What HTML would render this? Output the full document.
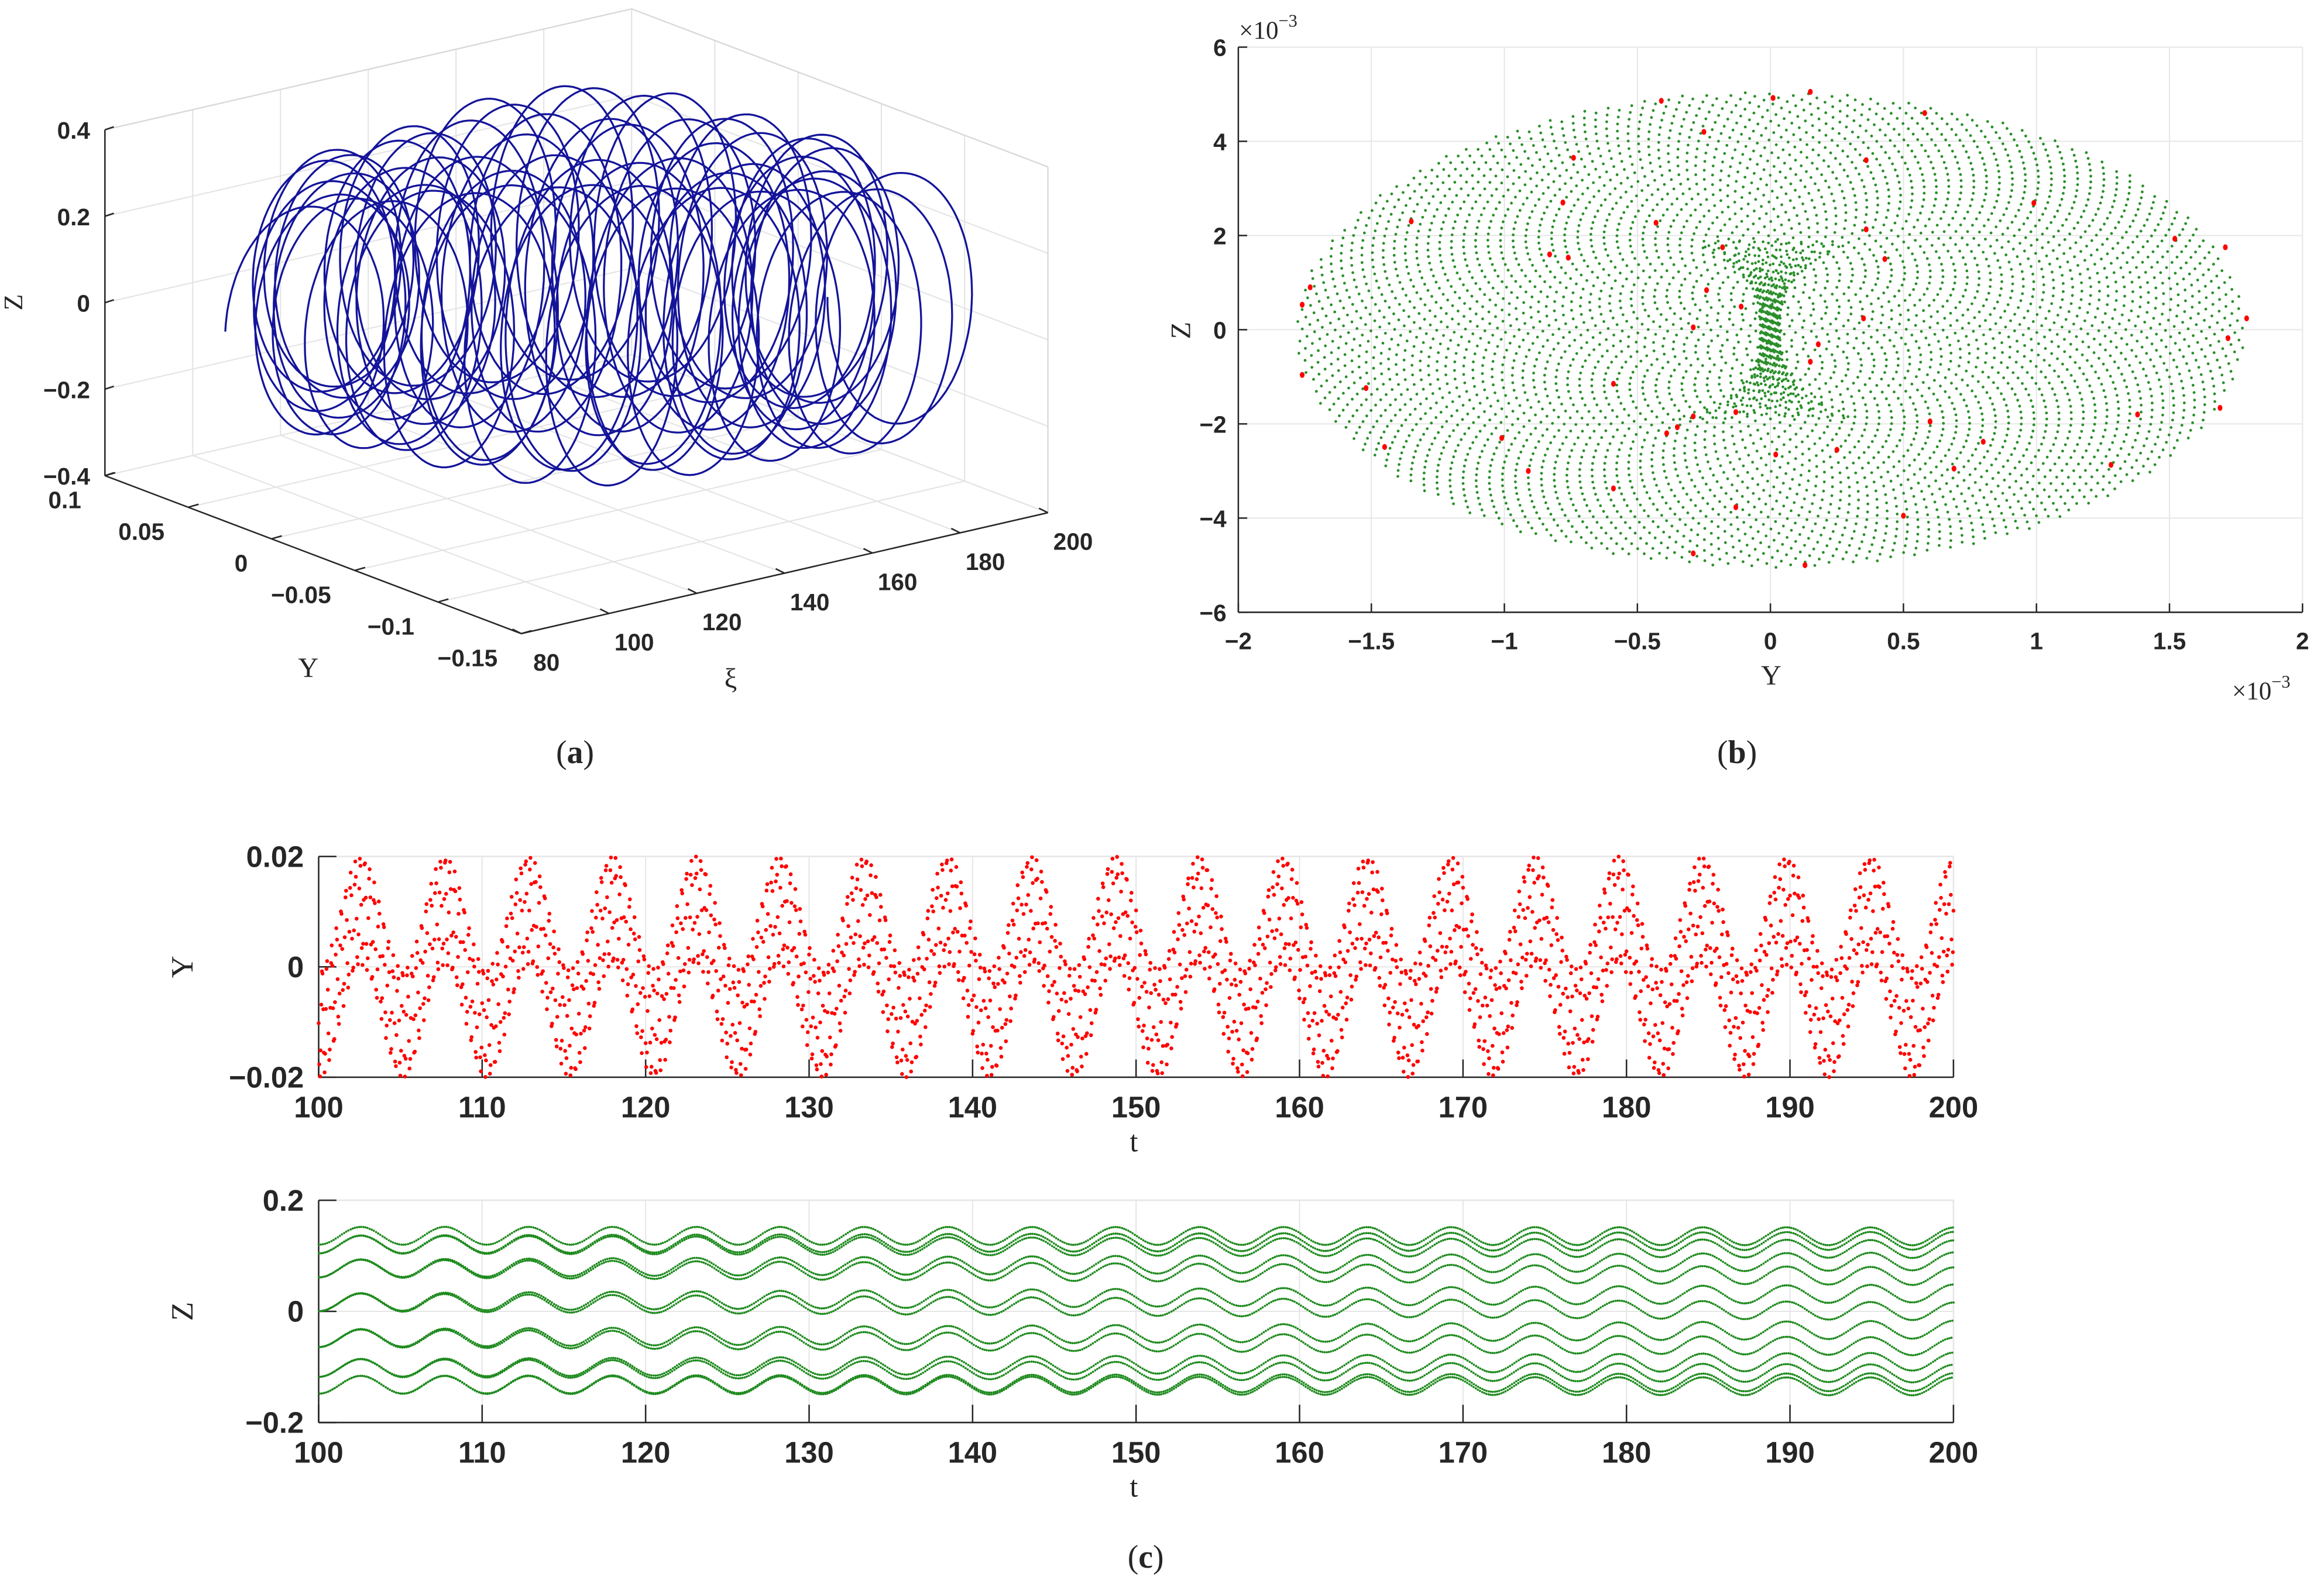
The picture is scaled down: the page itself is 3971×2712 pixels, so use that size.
<!DOCTYPE html>
<html><head><meta charset="utf-8"><style>
html,body{margin:0;padding:0;background:#fff;}
svg{display:block;}
.tk{font-family:"Liberation Sans",sans-serif;font-weight:bold;fill:#262626;}
.lb{font-family:"Liberation Serif",serif;fill:#262626;}
</style></head><body>
<svg id="fig" xmlns="http://www.w3.org/2000/svg" width="3971" height="2712" viewBox="0 0 1568 1071" preserveAspectRatio="none">
<rect width="1568" height="1071" fill="#fff"/>
<g id="pa"></g>
<g id="pb"></g>
<g id="pc1"></g>
<g id="pc2"></g>
<text x="388" y="515" text-anchor="middle" class="lb" font-size="22">(<tspan font-weight="bold">a</tspan>)</text>
<text x="1172" y="515" text-anchor="middle" class="lb" font-size="22">(<tspan font-weight="bold">b</tspan>)</text>
<text x="773" y="1058" text-anchor="middle" class="lb" font-size="22">(<tspan font-weight="bold">c</tspan>)</text>
</svg>
<script>
// ---------- data arrays ----------
const aZTicks=[0.4,0.2,0,-0.2,-0.4];
const aZTickLabels=["0.4","0.2","0","\u22120.2","\u22120.4"];
const aYTicks=[0.1,0.05,0,-0.05,-0.1,-0.15];
const aYTickLabels=["0.1","0.05","0","\u22120.05","\u22120.1","\u22120.15"];
const aXiTicks=[80,100,120,140,160,180,200];
const helixLoops=[58];
const helixRy=[78,100,88];
const helixRx=[48,52,50];
const helixWobble=[32,36,7.3];

const bXTicks=[-2,-1.5,-1,-0.5,0,0.5,1,1.5,2];
const bXTickLabels=["\u22122","\u22121.5","\u22121","\u22120.5","0","0.5","1","1.5","2"];
const bYTicks=[6,4,2,0,-2,-4,-6];
const bYTickLabels=["6","4","2","0","\u22122","\u22124","\u22126"];
const bOuter=[1.8,5.1];
const redY=[0.15,0.01,-0.41,0.58,-0.25,-0.74,0.36,-0.78,-0.43,0.36,-1.35,0.99,-0.83,-0.18,-0.76,0.43,1.52,1.71,-1.73,-0.24,-0.11,-1.76,1.79,0.35,-0.29,1.72,0.18,0.15,-1.76,-0.59,-1.52,-0.13,1.38,-0.29,0.6,1.69,-0.35,-0.39,0.8,-1.01,0.25,-1.45,0.02,0.69,-0.91,1.28,-0.59,-0.13,0.5,-0.29,0.13];
const redZ=[5.05,4.92,4.86,4.6,4.2,3.65,3.6,2.7,2.27,2.13,2.3,2.69,1.6,1.75,1.53,1.5,1.93,1.75,0.9,0.84,0.49,0.53,0.24,0.24,0.05,-0.18,-0.31,-0.68,-0.96,-1.15,-1.24,-1.75,-1.8,-1.84,-1.95,-1.66,-2.07,-2.2,-2.38,-2.3,-2.55,-2.49,-2.65,-2.95,-3.0,-2.87,-3.37,-3.77,-3.95,-4.75,-5.0];

const cTTicks=[100,110,120,130,140,150,160,170,180,190,200];
const c1YTicks=[0.02,0,-0.02];
const c1YTickLabels=["0.02","0","\u22120.02"];
const c2YTicks=[0.2,0,-0.2];
const c2YTickLabels=["0.2","0","\u22120.2"];
const c1Params=[0.0102,0.0098,5.13,101.3,3.455];
const c2Params=[0.016,0.136,5.13,101.3,7.69250];
const c1Dt=[0.04];
const c2Dt=[0.01];

// ---------- helpers ----------
const NS="http://www.w3.org/2000/svg";
function mk(tag,attrs,parent){const e=document.createElementNS(NS,tag);for(const k in attrs)e.setAttribute(k,attrs[k]);parent.appendChild(e);return e;}
function dot(x,y,r){return 'M'+(x-r).toFixed(1)+','+y.toFixed(1)+'a'+r+','+r+' 0 1,0 '+(2*r)+',0a'+r+','+r+' 0 1,0 '+(-2*r)+',0';}

// ---------- panel a ----------
(function(){
const g=document.getElementById('pa');
const O={x:351.7,y:427.6};
const eXi={x:2.961,y:-0.68}, eY={x:-1123.6,y:-426.4}, eZ=291.75;
function P(xi,Y,Z){return {x:O.x+(xi-80)*eXi.x+(Y+0.15)*eY.x, y:O.y+(xi-80)*eXi.y+(Y+0.15)*eY.y-(Z+0.4)*eZ};}
const gridC="#e3e3e3";
function ln(a,b,st,w,name){const l=mk('line',{x1:a.x,y1:a.y,x2:b.x,y2:b.y,stroke:st,'stroke-width':w},g);return l;}
aZTicks.forEach(z=>{ln(P(80,0.1,z),P(200,0.1,z),gridC,0.8,'grid-line');ln(P(200,0.1,z),P(200,-0.15,z),gridC,0.8,'grid-line');});
aXiTicks.forEach(x=>{ln(P(x,0.1,-0.4),P(x,0.1,0.4),gridC,0.8,'grid-line');ln(P(x,0.1,-0.4),P(x,-0.15,-0.4),gridC,0.8,'grid-line');});
aYTicks.forEach(y=>{ln(P(200,y,-0.4),P(200,y,0.4),gridC,0.8,'grid-line');ln(P(80,y,-0.4),P(200,y,-0.4),gridC,0.8,'grid-line');});
ln(P(80,0.1,0.4),P(200,0.1,0.4),'#d8d8d8',0.9,'box-edge');ln(P(200,0.1,0.4),P(200,-0.15,0.4),'#d8d8d8',0.9,'box-edge');
ln(P(200,-0.15,-0.4),P(200,-0.15,0.4),'#d8d8d8',0.9,'box-edge');
ln(P(80,0.1,-0.4),P(80,0.1,0.4),'#262626',1,'z-axis-line');
ln(P(80,0.1,-0.4),P(80,-0.15,-0.4),'#262626',1,'y-axis-line');
ln(P(80,-0.15,-0.4),P(200,-0.15,-0.4),'#262626',1,'xi-axis-line');
aZTicks.forEach((z,i)=>{const p=P(80,0.1,z);ln(p,{x:p.x+6,y:p.y-2},'#262626',1,'z-tick');
 const t=mk('text',{x:p.x-10,y:p.y+6,'text-anchor':'end','font-size':16,class:'tk'},g);t.textContent=aZTickLabels[i];
 });
aYTicks.forEach((y,i)=>{const p=P(80,y,-0.4);ln(p,{x:p.x+7,y:p.y-2},'#262626',1,'y-tick');
 const t=mk('text',{x:p.x-16,y:p.y+22,'text-anchor':'end','font-size':16,class:'tk'},g);t.textContent=aYTickLabels[i];
 });
aXiTicks.forEach((x,i)=>{const p=P(x,-0.15,-0.4);ln(p,{x:p.x-6,y:p.y-3},'#262626',1,'xi-tick');
 const t=mk('text',{x:p.x+17,y:p.y+25,'text-anchor':'middle','font-size':16,class:'tk'},g);t.textContent=aXiTicks[i];
 });
let t=mk('text',{x:15,y:204,'text-anchor':'middle','font-size':18,class:'lb',transform:'rotate(-90 15 204)'},g);t.textContent='Z';

t=mk('text',{x:208,y:457,'text-anchor':'middle','font-size':19,class:'lb'},g);t.textContent='Y';

t=mk('text',{x:493,y:464,'text-anchor':'middle','font-size':19,class:'lb'},g);t.textContent='\u03BE';

const N=6000;let d='';
for(let k=0;k<=N;k++){const s=k/N;
 const th=2*Math.PI*helixLoops[0]*s;
 const mid=Math.pow(Math.sin(Math.PI*s),2);
 const ry=(helixRy[0]*(1-s)+helixRy[2]*s)*(1-mid)+helixRy[1]*mid;
 const rx=(helixRx[0]*(1-s)+helixRx[2]*s)*(1-mid)+helixRx[1]*mid;
 const ph=2*Math.PI*helixWobble[2]*s;
 const cx=200+390*s+helixWobble[0]*Math.sin(ph)*(0.6+0.4*mid);
 const cy=200-8*mid+helixWobble[1]*Math.cos(ph)*(0.5+0.5*mid);
 const X=cx-rx*Math.cos(th), Y=cy-ry*Math.sin(th)+0.12*rx*Math.cos(th);
 d+=(k?'L':'M')+X.toFixed(1)+','+Y.toFixed(1);}
const h=mk('path',{d:d,fill:'none',stroke:'#14149a','stroke-width':1.3},g);

})();

// ---------- panel b ----------
(function(){
const g=document.getElementById('pb');
const L=835.5,R=1553.5,T=31.8,B=413.2;
const xs=v=>L+(v+2)/4*(R-L), ys=v=>T+(6-v)/12*(B-T);
bXTicks.forEach((v,i)=>{const x=xs(v);
 const l=mk('line',{x1:x,y1:T,x2:x,y2:B,stroke:'#e6e6e6','stroke-width':0.8},g);
 const tk=mk('line',{x1:x,y1:B,x2:x,y2:B-6,stroke:'#262626','stroke-width':1},g);
 const t=mk('text',{x:x,y:B+25,'text-anchor':'middle','font-size':16,class:'tk'},g);t.textContent=bXTickLabels[i];
 });
bYTicks.forEach((v,i)=>{const y=ys(v);
 const l=mk('line',{x1:L,y1:y,x2:R,y2:y,stroke:'#e6e6e6','stroke-width':0.8},g);
 const tk=mk('line',{x1:L,y1:y,x2:L+6,y2:y,stroke:'#262626','stroke-width':1},g);
 const t=mk('text',{x:L-8,y:y+6,'text-anchor':'end','font-size':16,class:'tk'},g);t.textContent=bYTickLabels[i];
 });
let a=mk('line',{x1:L,y1:T,x2:L,y2:B,stroke:'#262626','stroke-width':1},g);
a=mk('line',{x1:L,y1:B,x2:R,y2:B,stroke:'#262626','stroke-width':1},g);
let t=mk('text',{x:1195,y:462,'text-anchor':'middle','font-size':19,class:'lb'},g);t.textContent='Y';
t=mk('text',{x:803,y:223,'text-anchor':'middle','font-size':19,class:'lb',transform:'rotate(-90 803 223)'},g);t.textContent='Z';
t=mk('text',{x:836,y:26,'font-size':17,class:'lb'},g);t.innerHTML='\u00D710<tspan dy="-8" font-size="12">\u22123</tspan>';
t=mk('text',{x:1506,y:472,'font-size':17,class:'lb'},g);t.innerHTML='\u00D710<tspan dy="-8" font-size="12">\u22123</tspan>';
let d='';const ga=Math.PI*(3-Math.sqrt(5));const NG=4600;
for(let k=0;k<NG;k++){const r=Math.sqrt((k+0.5)/NG)*0.99;const th=k*ga;
 let Y=bOuter[0]*r*Math.cos(th), Z=bOuter[1]*r*Math.sin(th);
 d+=dot(xs(Y),ys(Z),0.95);}
for(let k=0;k<450;k++){const u=((k*0.5698403)%1)*2-1;
 const Z=u*1.9; const w=0.04+0.3*Math.pow(Math.abs(u),3);
 const Y=(((k*0.7548777)%1)*2-1)*w;
 d+=dot(xs(Y),ys(Z),0.95);}
const gd=mk('path',{d:d,fill:'#2a8f2a'},g);
redY.forEach((v,i)=>{const c=mk('ellipse',{cx:xs(v),cy:ys(redZ[i]),rx:1.6,ry:2,fill:'#ff0000'},g);
 });
})();

// ---------- panel c ----------
function tsPanel(id,T,B,ticks,labels,ymax,params,color,ylabel,r,dt){
const g=document.getElementById(id);
const L=215,R=1318;
const xs=v=>L+(v-100)/100*(R-L), ys=v=>T+(ymax-v)/(2*ymax)*(B-T);
let f=mk('rect',{x:L,y:T,width:R-L,height:B-T,fill:'none',stroke:'#e6e6e6','stroke-width':1},g);
cTTicks.forEach(v=>{const x=xs(v);
 const l=mk('line',{x1:x,y1:T,x2:x,y2:B,stroke:'#e6e6e6','stroke-width':0.8},g);
 const tk=mk('line',{x1:x,y1:B,x2:x,y2:B-12,stroke:'#262626','stroke-width':1},g);
 const t=mk('text',{x:x,y:B+27,'text-anchor':'middle','font-size':20,class:'tk'},g);t.textContent=v;
 });
ticks.forEach((v,i)=>{const y=ys(v);
 const l=mk('line',{x1:L,y1:y,x2:R,y2:y,stroke:'#e6e6e6','stroke-width':0.8},g);
 const tk=mk('line',{x1:L,y1:y,x2:L+12,y2:y,stroke:'#262626','stroke-width':1},g);
 const t=mk('text',{x:L-10,y:y+7,'text-anchor':'end','font-size':20,class:'tk'},g);t.textContent=labels[i];
 });
let a=mk('line',{x1:L,y1:T,x2:L,y2:B,stroke:'#262626','stroke-width':1},g);
a=mk('line',{x1:L,y1:B,x2:R,y2:B,stroke:'#262626','stroke-width':1},g);
let t=mk('text',{x:765,y:B+50,'text-anchor':'middle','font-size':20,class:'lb'},g);t.textContent='t';
const yc=(T+B)/2;
t=mk('text',{x:130,y:yc,'text-anchor':'middle','font-size':21,class:'lb',transform:'rotate(-90 130 '+yc+')'},g);t.textContent=ylabel;
let d='';
const n=Math.round(100/dt);
for(let k=0;k<=n;k++){const tt=100+k*dt;
 let v=params[0]*Math.sin(2*Math.PI*(tt-params[3])/params[2])+params[1]*Math.sin(2*Math.PI*params[4]*tt);
 if(v>ymax)v=ymax;if(v<-ymax)v=-ymax;
 d+=dot(xs(tt),ys(v),r);}
const p=mk('path',{d:d,fill:color},g);
}
tsPanel('pc1',578,727,c1YTicks,c1YTickLabels,0.02,c1Params,'#ff0000','Y',1.3,c1Dt[0]);
tsPanel('pc2',810,960,c2YTicks,c2YTickLabels,0.2,c2Params,'#1e8a1e','Z',0.75,c2Dt[0]);
</script>
</body></html>
